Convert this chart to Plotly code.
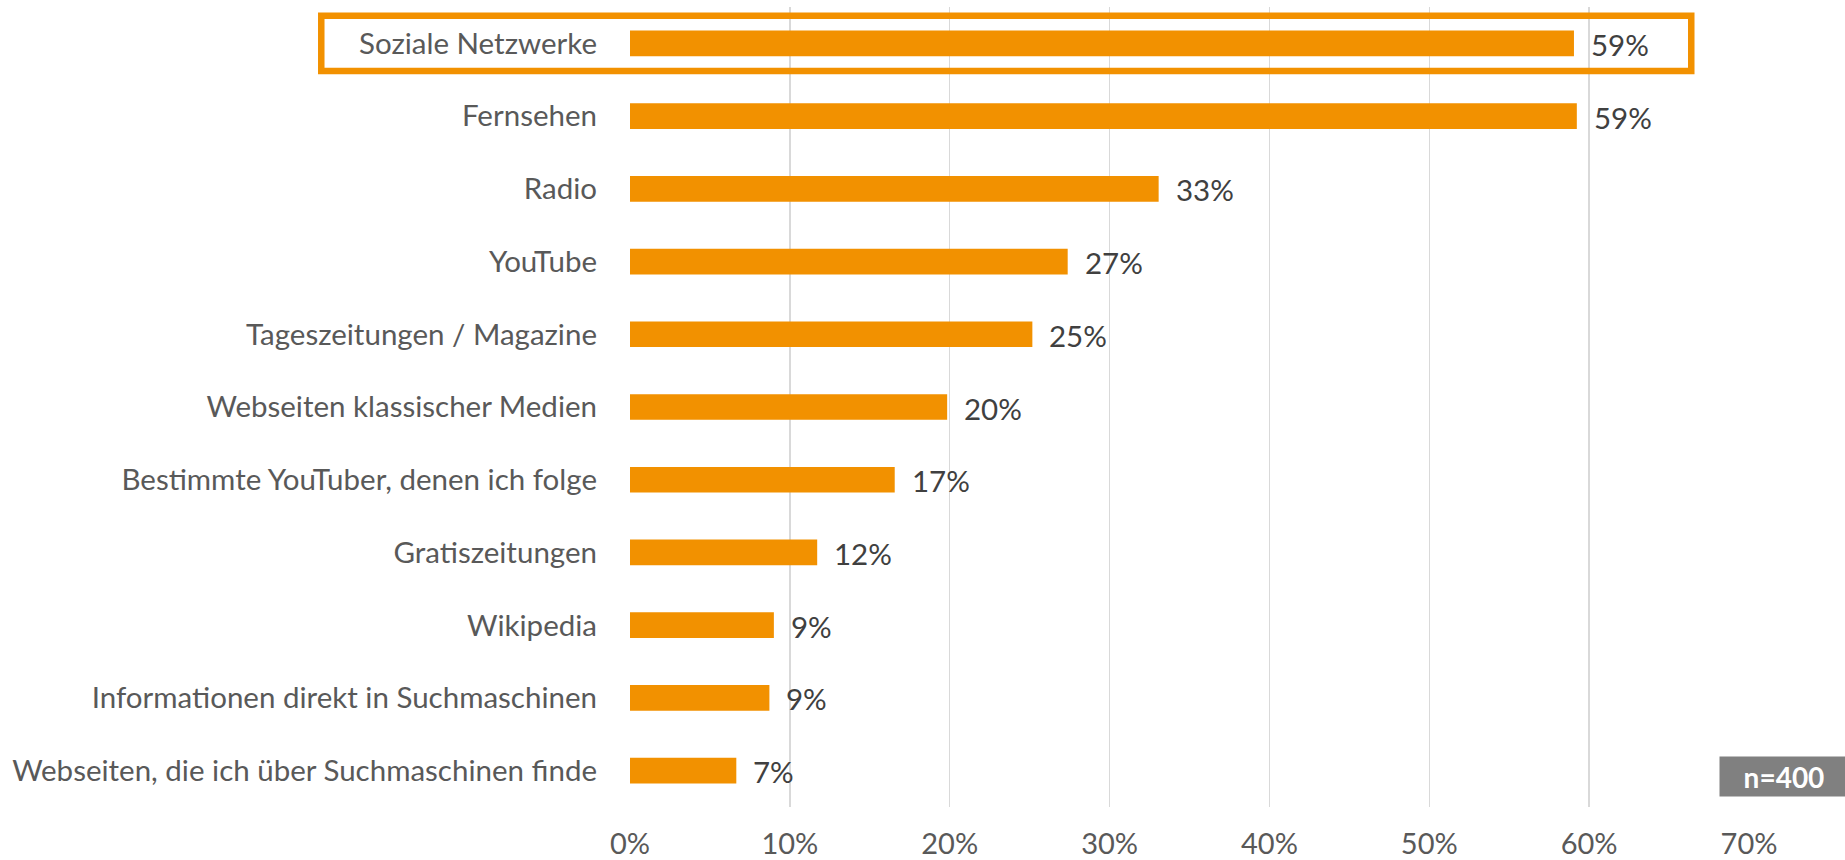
import plotly.graph_objects as go

categories = [
    "Soziale Netzwerke",
    "Fernsehen",
    "Radio",
    "YouTube",
    "Tageszeitungen / Magazine",
    "Webseiten klassischer Medien",
    "Bestimmte YouTuber, denen ich folge",
    "Gratiszeitungen",
    "Wikipedia",
    "Informationen direkt in Suchmaschinen",
    "Webseiten, die ich über Suchmaschinen finde",
]
values = [0.5905, 0.5923, 0.3307, 0.2738, 0.2517, 0.1984, 0.1656, 0.1171, 0.0900, 0.0872, 0.0665]
x_ticks = [0, 0.1, 0.2, 0.3, 0.4, 0.5, 0.6, 0.7]
x_tick_labels = ["0%", "10%", "20%", "30%", "40%", "50%", "60%", "70%"]
highlight_category = "Soziale Netzwerke"
sample_note = "n=400"

ORANGE = "#F29100"
FONT = "Lato"
FS = 29.5

fig = go.Figure()
fig.add_trace(go.Bar(
    y=categories,
    x=values,
    orientation="h",
    marker=dict(color=ORANGE, line=dict(width=0)),
    width=0.353,
    hoverinfo="skip",
))

# value labels
for c, v in zip(categories, values):
    fig.add_annotation(
        x=v, y=c, xref="x", yref="y",
        text=f"{round(v * 100):.0f}%",
        showarrow=False, xanchor="left", yanchor="middle",
        xshift=15, yshift=-1,
        font=dict(family=FONT, size=FS, color="#404040"),
    )

# highlight box around first category
hi = categories.index(highlight_category)
fig.add_shape(
    type="rect", xref="paper", yref="y",
    x0=-0.2759, x1=0.9484, y0=hi - 0.381, y1=hi + 0.381,
    line=dict(color=ORANGE, width=6.5), fillcolor="rgba(0,0,0,0)",
    layer="above",
)

# n box
fig.add_annotation(
    xref="paper", yref="paper", x=1.0, y=0.0,
    xanchor="left", yanchor="bottom",
    xshift=-30, yshift=10,
    text="<b>" + sample_note + "</b>",
    showarrow=False,
    bgcolor="#808080",
    font=dict(family=FONT, size=28, color="white"),
    width=126, height=37,
)

fig.update_layout(
    width=1845, height=860,
    margin=dict(l=630, r=96, t=7, b=53),
    paper_bgcolor="white", plot_bgcolor="white",
    showlegend=False,
    bargap=0.6,
    xaxis=dict(
        range=[0, 0.70],
        tickvals=x_ticks, ticktext=x_tick_labels,
        showgrid=True, gridcolor="#D9D9D9", gridwidth=1.5,
        zeroline=False, showline=False,
        ticks="", ticklabelstandoff=17,
        tickfont=dict(family=FONT, size=29, color="#595959"),
        fixedrange=True, automargin=False,
    ),
    yaxis=dict(
        categoryorder="array", categoryarray=categories,
        autorange="reversed",
        showgrid=False, zeroline=False, showline=False,
        ticks="", ticklabelstandoff=32,
        tickfont=dict(family=FONT, size=FS, color="#595959"),
        fixedrange=True, automargin=False,
    ),
)

fig.write_html(
    "out.html",
    config={"displayModeBar": False, "staticPlot": True},
    post_script="document.body.style.margin='0';document.body.style.overflow='hidden';",
)
